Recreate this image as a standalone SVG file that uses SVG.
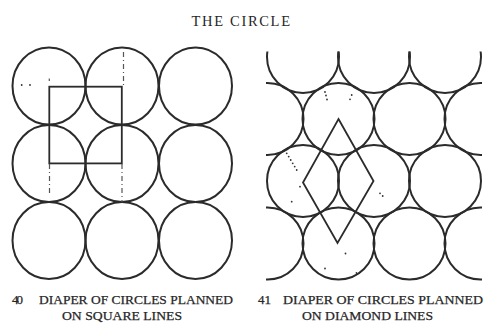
<svg xmlns="http://www.w3.org/2000/svg" width="484" height="323" viewBox="0 0 484 323">
  <style>
    .c { fill: none; stroke: #2b2b2b; stroke-width: 2; }
    .ln { fill: none; stroke: #2b2b2b; stroke-width: 1.8; }
    .dash { fill: none; stroke: #555; stroke-width: 1.2; stroke-dasharray: 5 3 1 3; }
    .dot { fill: #333; }
    .t { font-family: "Liberation Serif", "Times New Roman", serif; fill: #262626; }
    .cap { font-size: 13px; stroke: #262626; stroke-width: 0.25; }
  </style>
  <defs>
    <clipPath id="rclip">
      <rect x="266" y="51.5" width="216" height="230"/>
    </clipPath>
  </defs>
  <rect width="484" height="323" fill="#fff"/>

  <text class="t" x="191.5" y="25.5" font-size="14.5" textLength="98.5" lengthAdjust="spacing">THE CIRCLE</text>

  <!-- Figure 40 -->
  <g id="fig40-circles">
    <ellipse class="c" cx="49" cy="86" rx="36.5" ry="38.5"/>
    <ellipse class="c" cx="122" cy="86" rx="36.5" ry="38.5"/>
    <ellipse class="c" cx="195.5" cy="86" rx="36.5" ry="38.5"/>
    <ellipse class="c" cx="49" cy="163.5" rx="36.5" ry="38.5"/>
    <ellipse class="c" cx="122" cy="163.5" rx="36.5" ry="38.5"/>
    <ellipse class="c" cx="195.5" cy="163.5" rx="36.5" ry="38.5"/>
    <ellipse class="c" cx="49" cy="240.5" rx="36.5" ry="38.5"/>
    <ellipse class="c" cx="122" cy="240.5" rx="36.5" ry="38.5"/>
    <ellipse class="c" cx="195.5" cy="240.5" rx="36.5" ry="38.5"/>
  </g>
  <g id="fig40-square">
    <rect class="ln" x="49.3" y="86.7" width="72.5" height="76.7"/>
    <path class="dash" d="M49.5 164 V196 M122 164 V202 M123.5 52 V86"/>
    <path class="dash" d="M49.3 78.5 V81"/>
    <circle class="dot" cx="21.7" cy="85" r="0.9"/>
    <circle class="dot" cx="30" cy="85" r="0.9"/>
  </g>

  <!-- Figure 41 -->
  <g id="fig41-circles" clip-path="url(#rclip)">
    <circle class="c" cx="303" cy="57" r="36"/>
    <circle class="c" cx="374" cy="57" r="36"/>
    <circle class="c" cx="445" cy="57" r="36"/>
    <circle class="c" cx="267.5" cy="119" r="36"/>
    <circle class="c" cx="338.5" cy="119" r="36"/>
    <circle class="c" cx="409.5" cy="119" r="36"/>
    <circle class="c" cx="480.5" cy="119" r="36"/>
    <circle class="c" cx="303" cy="181" r="36"/>
    <circle class="c" cx="374" cy="181" r="36"/>
    <circle class="c" cx="445" cy="181" r="36"/>
    <circle class="c" cx="267.5" cy="243.5" r="36"/>
    <circle class="c" cx="338.5" cy="243.5" r="36"/>
    <circle class="c" cx="409.5" cy="243.5" r="36"/>
    <circle class="c" cx="480.5" cy="243.5" r="36"/>
  </g>
  <g id="fig41-diamond">
    <path class="ln" d="M338.5 119 L373.5 181 L337.5 243 L303 182.5 Z"/>
    <g class="dot">
      <circle cx="325" cy="92" r="0.9"/>
      <circle cx="326" cy="95.5" r="0.9"/>
      <circle cx="327" cy="99.5" r="0.9"/>
      <circle cx="351.7" cy="95" r="0.9"/>
      <circle cx="350" cy="99.3" r="0.9"/>
      <circle cx="286.7" cy="153.3" r="0.9"/>
      <circle cx="288.7" cy="156.6" r="0.9"/>
      <circle cx="290.7" cy="160" r="0.9"/>
      <circle cx="292.7" cy="163.3" r="0.9"/>
      <circle cx="294.7" cy="166.6" r="0.9"/>
      <circle cx="296.7" cy="170" r="0.9"/>
      <circle cx="300" cy="186.7" r="0.9"/>
      <circle cx="291.7" cy="201.7" r="0.9"/>
      <circle cx="380" cy="193.3" r="0.9"/>
      <circle cx="382.7" cy="196" r="0.9"/>
      <circle cx="345.5" cy="253.5" r="0.9"/>
      <circle cx="325" cy="268.5" r="0.9"/>
      <circle cx="356.5" cy="273" r="0.9"/>
    </g>
  </g>

  <!-- Captions -->
  <g id="caption40">
    <text class="t cap" x="12" y="304" textLength="11">40</text>
    <text class="t cap" x="39" y="304" textLength="194" lengthAdjust="spacingAndGlyphs">DIAPER OF CIRCLES PLANNED</text>
    <text class="t cap" x="62" y="320" textLength="120" lengthAdjust="spacingAndGlyphs">ON SQUARE LINES</text>
  </g>
  <g id="caption41">
    <text class="t cap" x="258" y="304" textLength="13">41</text>
    <text class="t cap" x="283" y="304" textLength="200" lengthAdjust="spacingAndGlyphs">DIAPER OF CIRCLES PLANNED</text>
    <text class="t cap" x="302" y="320" textLength="131" lengthAdjust="spacingAndGlyphs">ON DIAMOND LINES</text>
  </g>
</svg>
